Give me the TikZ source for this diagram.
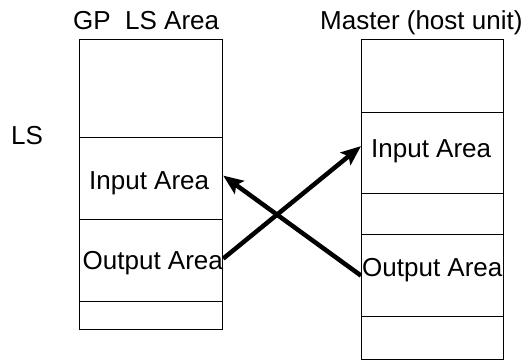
\documentclass[tikz,border=0pt]{standalone}
\usepackage{fontspec}
\setmainfont{Liberation Sans}
\usetikzlibrary{arrows.meta}
\begin{document}
\begin{tikzpicture}[x=1pt,y=-1pt,
  cell/.style={draw,line width=1.2pt,inner sep=0pt,anchor=north west,minimum width=143pt},
  rcell/.style={draw,line width=1.2pt,inner sep=0pt,anchor=north west,minimum width=142pt},
  lbl/.style={inner sep=0pt,anchor=base west,font=\fontsize{26}{31}\selectfont},
  arr/.style={line width=4.5pt,-{Stealth[length=20pt,width=16pt,inset=4pt]}}]
\useasboundingbox (0,0) rectangle (525,360);
% left column
\node[cell,minimum height=98pt] (L1) at (79,39) {};
\node[cell,minimum height=82pt] (L2) at (79,137) {};
\node[cell,minimum height=82pt] (L3) at (79,219) {};
\node[cell,minimum height=28pt] (L4) at (79,301) {};
% right column
\node[rcell,minimum height=73pt] (R1) at (361,39) {};
\node[rcell,minimum height=81pt] (R2) at (361,112) {};
\node[rcell,minimum height=41pt] (R3) at (361,193) {};
\node[rcell,minimum height=82pt] (R4) at (361,234) {};
\node[rcell,minimum height=43pt] (R5) at (361,316) {};
% labels
\node[lbl] (tl) at (73,29) {GP\ \ LS Area};
\node[lbl] (tr) at (320,29) {Master (host unit)};
\node[lbl] (ls) at (11,144) {LS};
\node[lbl] (li) at (89,189.5) {Input Area};
\node[lbl] (lo) at (82.5,269) {Output Area};
\node[lbl] (ri) at (371,157) {Input Area};
\node[lbl] (ro) at (362,276) {Output Area};
% arrows
\draw[arr] ([yshift=2pt]L3.east) -- ([yshift=7pt]R2.west);
\draw[arr] (R4.west) -- ([yshift=3pt]L2.east);
\end{tikzpicture}
\end{document}
